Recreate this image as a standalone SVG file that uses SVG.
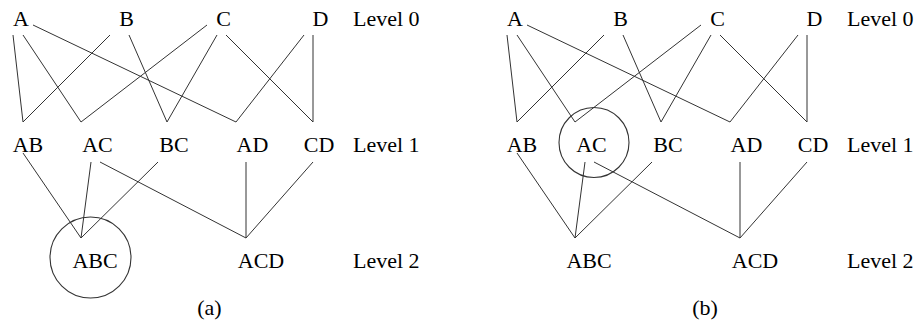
<svg xmlns="http://www.w3.org/2000/svg" width="921" height="321" viewBox="0 0 921 321">
<style>
text{font-family:"Liberation Serif","Times New Roman",serif;font-size:22px;fill:#000;}
.n{text-anchor:middle;}
.e line{stroke:#333;stroke-width:1;fill:none;}
.ring{stroke:#333;stroke-width:1.1;fill:none;}
</style>
<rect width="921" height="321" fill="#fff"/>
<g id="panel-a">
<g id="a-edges" class="e">
<line x1="13" y1="35" x2="23" y2="122"/>
<line x1="23" y1="35" x2="81" y2="122"/>
<line x1="33" y1="25" x2="236" y2="122"/>
<line x1="110" y1="35" x2="23" y2="122"/>
<line x1="129" y1="35" x2="167" y2="122"/>
<line x1="207" y1="25" x2="81" y2="122"/>
<line x1="217" y1="35" x2="167" y2="122"/>
<line x1="226" y1="35" x2="313" y2="122"/>
<line x1="304" y1="35" x2="236" y2="122"/>
<line x1="313" y1="35" x2="313" y2="122"/>
<line x1="23" y1="153" x2="81" y2="238"/>
<line x1="91" y1="162" x2="81" y2="238"/>
<line x1="158" y1="162" x2="81" y2="238"/>
<line x1="100" y1="162" x2="246" y2="238"/>
<line x1="246" y1="162" x2="246" y2="238"/>
<line x1="313" y1="162" x2="246" y2="238"/>
</g>
<g id="a-A"><text class="n" x="21" y="26">A</text></g>
<g id="a-B"><text class="n" x="126.5" y="26">B</text></g>
<g id="a-C"><text class="n" x="223.5" y="26">C</text></g>
<g id="a-D"><text class="n" x="320.5" y="26">D</text></g>
<g id="a-AB"><text class="n" x="28" y="152">AB</text></g>
<g id="a-AC"><text class="n" x="97.5" y="152">AC</text></g>
<g id="a-BC"><text class="n" x="174" y="152">BC</text></g>
<g id="a-AD"><text class="n" x="252.5" y="152">AD</text></g>
<g id="a-CD"><text class="n" x="319" y="152">CD</text></g>
<g id="a-ABC"><circle class="ring" cx="90.5" cy="257.5" r="40.5"/><text class="n" x="95" y="268">ABC</text></g>
<g id="a-ACD"><text class="n" x="261" y="268">ACD</text></g>
<g id="a-levels">
<text x="353" y="26">Level 0</text>
<text x="353" y="152">Level 1</text>
<text x="353" y="268">Level 2</text>
</g>
<text id="a-caption" class="n" x="209.5" y="315">(a)</text>
</g>
<g id="panel-b" transform="translate(494,0)">
<g id="b-edges" class="e">
<line x1="13" y1="35" x2="23" y2="122"/>
<line x1="23" y1="35" x2="81" y2="122"/>
<line x1="33" y1="25" x2="236" y2="122"/>
<line x1="110" y1="35" x2="23" y2="122"/>
<line x1="129" y1="35" x2="167" y2="122"/>
<line x1="207" y1="25" x2="81" y2="122"/>
<line x1="217" y1="35" x2="167" y2="122"/>
<line x1="226" y1="35" x2="313" y2="122"/>
<line x1="304" y1="35" x2="236" y2="122"/>
<line x1="313" y1="35" x2="313" y2="122"/>
<line x1="23" y1="153" x2="81" y2="238"/>
<line x1="91" y1="162" x2="81" y2="238"/>
<line x1="158" y1="162" x2="81" y2="238"/>
<line x1="100" y1="162" x2="246" y2="238"/>
<line x1="246" y1="162" x2="246" y2="238"/>
<line x1="313" y1="162" x2="246" y2="238"/>
</g>
<g id="b-A"><text class="n" x="21" y="26">A</text></g>
<g id="b-B"><text class="n" x="126.5" y="26">B</text></g>
<g id="b-C"><text class="n" x="223.5" y="26">C</text></g>
<g id="b-D"><text class="n" x="320.5" y="26">D</text></g>
<g id="b-AB"><text class="n" x="28" y="152">AB</text></g>
<g id="b-AC"><circle class="ring" cx="100" cy="142.5" r="35"/><text class="n" x="97.5" y="152">AC</text></g>
<g id="b-BC"><text class="n" x="174" y="152">BC</text></g>
<g id="b-AD"><text class="n" x="252.5" y="152">AD</text></g>
<g id="b-CD"><text class="n" x="319" y="152">CD</text></g>
<g id="b-ABC"><text class="n" x="95" y="268">ABC</text></g>
<g id="b-ACD"><text class="n" x="261" y="268">ACD</text></g>
<g id="b-levels">
<text x="353" y="26">Level 0</text>
<text x="353" y="152">Level 1</text>
<text x="353" y="268">Level 2</text>
</g>
<text id="b-caption" class="n" x="211" y="315">(b)</text>
</g>
</svg>
